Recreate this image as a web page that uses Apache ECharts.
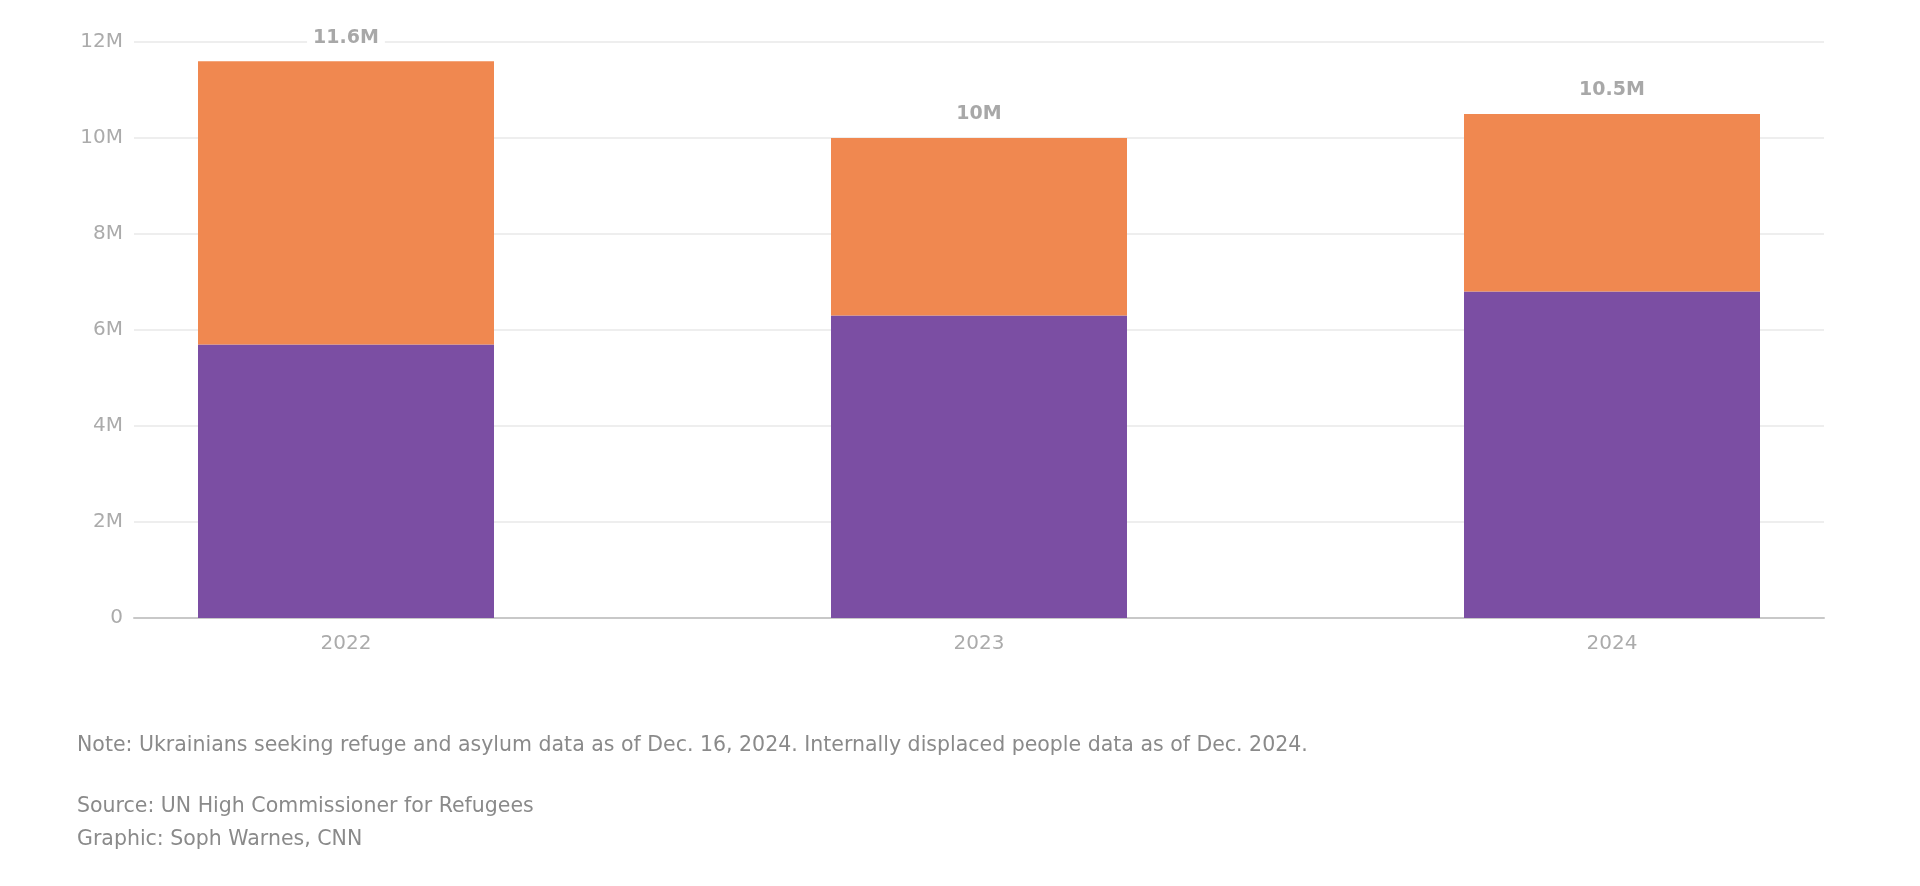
<!DOCTYPE html>
<html>
<head>
<meta charset="utf-8">
<script src="https://cdn.jsdelivr.net/npm/echarts@6/dist/echarts.min.js"></script>
<style>
html,body{margin:0;padding:0;background:#fff;}
#chart{width:1920px;height:886px;}
</style>
</head>
<body>
<div id="chart"></div>
<script>
const categories = ['2022', '2023', '2024'];
const refugees = [5.7, 6.3, 6.8];          // millions (purple)
const internallyDisplaced = [5.9, 3.7, 3.7]; // millions (orange)
const totalLabels = ['11.6M', '10M', '10.5M'];
const yTicks = [0, 2, 4, 6, 8, 10, 12];
const noteText = 'Note: Ukrainians seeking refuge and asylum data as of Dec. 16, 2024. Internally displaced people data as of Dec. 2024.';
const sourceText = 'Source: UN High Commissioner for Refugees';
const creditText = 'Graphic: Soph Warnes, CNN';

const FONT = '"DejaVu Sans", sans-serif';
const chart = echarts.init(document.getElementById('chart'));

const option = {
  animation: false,
  backgroundColor: '#ffffff',
  grid: [
    { left: 134, right: 96, top: 42, bottom: 268, outerBoundsMode: 'none', containLabel: false },
    { left: 29.5, right: -8.5, top: 42, bottom: 268, outerBoundsMode: 'none', containLabel: false }
  ],
  xAxis: [
    {
      type: 'category', gridIndex: 0, data: categories,
      axisLine: { show: true, lineStyle: { color: '#c8c8c8', width: 2 } },
      axisTick: { show: false }, axisLabel: { show: false }, splitLine: { show: false }
    },
    {
      type: 'category', gridIndex: 1, data: categories,
      axisLine: { show: false }, axisTick: { show: false }, splitLine: { show: false },
      axisLabel: { color: '#ababab', fontSize: 20, fontFamily: FONT, margin: 16 }
    }
  ],
  yAxis: [
    {
      type: 'value', gridIndex: 0, min: yTicks[0], max: yTicks[yTicks.length - 1], interval: 2,
      axisLine: { show: false }, axisTick: { show: false },
      splitLine: { show: true, lineStyle: { color: '#e8e8e8', width: 1.5 } },
      axisLabel: {
        color: '#ababab', fontSize: 20, fontFamily: FONT, margin: 11,
        formatter: v => v === 0 ? '0' : v + 'M'
      }
    },
    {
      type: 'value', gridIndex: 1, min: yTicks[0], max: yTicks[yTicks.length - 1], interval: 2,
      show: false, splitLine: { show: false }
    }
  ],
  series: [
    {
      name: 'Ukrainians seeking refuge and asylum', type: 'bar', stack: 'total',
      xAxisIndex: 1, yAxisIndex: 1, data: refugees, barWidth: 296,
      itemStyle: { color: '#7b4ea3' }
    },
    {
      name: 'Internally displaced people', type: 'bar', stack: 'total',
      xAxisIndex: 1, yAxisIndex: 1, data: internallyDisplaced, barWidth: 296,
      itemStyle: { color: '#f08850' },
      label: {
        show: true, position: 'top', distance: 12,
        formatter: p => totalLabels[p.dataIndex],
        color: '#a8a8a8', fontSize: 19, fontWeight: 'bold', fontFamily: FONT,
        backgroundColor: '#ffffff', padding: [2, 6]
      }
    }
  ],
  graphic: [
    { type: 'text', left: 77, top: 735, style: { text: noteText, fill: '#8a8a8a', fontSize: 20.5, fontFamily: FONT } },
    { type: 'text', left: 77, top: 796, style: { text: sourceText, fill: '#8a8a8a', fontSize: 20.5, fontFamily: FONT } },
    { type: 'text', left: 77, top: 829, style: { text: creditText, fill: '#8a8a8a', fontSize: 20.5, fontFamily: FONT } }
  ]
};
chart.setOption(option);
</script>
</body>
</html>
